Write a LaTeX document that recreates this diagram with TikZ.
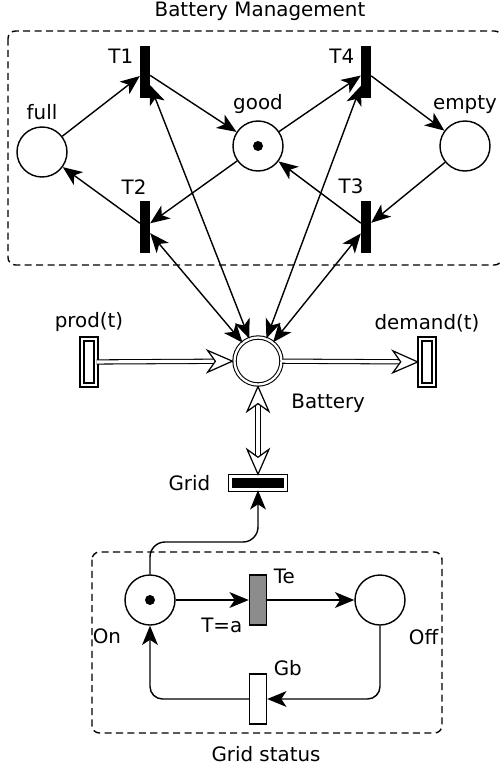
\documentclass[tikz,border=0pt]{standalone}
\usepackage{fontspec}
\setmainfont{DejaVu Sans}
\usetikzlibrary{arrows.meta, positioning, calc}

\begin{document}
\begin{tikzpicture}[
  font=\fontsize{11.3}{13.5}\selectfont,
  line width=0.8pt,
  place/.style={draw, circle, minimum size=1cm, inner sep=0pt},
  token/.style={fill=black, circle, minimum size=0.2cm, inner sep=0pt},
  bar/.style={draw, fill=black, minimum width=0.18cm, minimum height=1.02cm, inner sep=0pt},
  gate/.style={draw, minimum width=0.34cm, minimum height=1cm, inner sep=0pt},
  ext/.style={draw, double, double distance=1.5pt, inner sep=0pt},
  group/.style={draw, dash pattern=on 4pt off 2.5pt, rounded corners=0.15cm},
  arc/.style={-{Stealth[length=11pt, width=9pt, inset=3pt]}},
  biarc/.style={{Stealth[length=11pt, width=9pt, inset=3pt]}-{Stealth[length=11pt, width=9pt, inset=3pt]}},
  flow/.style={double, double distance=1.8pt, line width=0.6pt},
  fat/.tip={Stealth[length=16pt, width=14pt, inset=5pt, fill=white, line width=0.7pt]}
]
  \useasboundingbox (0,0) rectangle (10,-15.38);

  % Battery Management
  \draw[group] (0.16,-0.62) rectangle (10.04,-5.30);
  \node (bmtitle) at (5.2,-0.22) {Battery Management};
  \node[place, label=above:full] (full) at (0.84,-3.04) {};
  \node[place, label=above:good] (good) at (5.16,-2.92) {};
  \node[place, label=above:empty] (empty) at (9.30,-2.92) {};
  \node[token] (goodtok) at (good) {};
  \node[bar, label={[yshift=0.32cm]left:T1}] (t1) at (2.90,-1.44) {};
  \node[bar, label={[yshift=0.32cm]left:T4}] (t4) at (7.32,-1.44) {};
  \node[bar, label={[xshift=-0.22cm]above:T2}] (t2) at (2.90,-4.54) {};
  \node[bar, label={[xshift=-0.3cm]above:T3}] (t3) at (7.32,-4.54) {};

  \draw[arc] (full) -- (t1);
  \draw[arc] (t1) -- (good);
  \draw[arc] (good) -- (t4);
  \draw[arc] (t4) -- (empty);
  \draw[arc] (empty) -- (t3);
  \draw[arc] (t3) -- (good);
  \draw[arc] (good) -- (t2);
  \draw[arc] (t2) -- (full);

  % Battery
  \node[draw, circle, double, double distance=1.3pt, line width=0.6pt, minimum size=0.94cm, inner sep=0pt,
        label={[label distance=0.28cm]-45:Battery}] (bat) at (5.16,-7.22) {};
  \node[ext, minimum width=0.28cm, minimum height=0.92cm, label=above:prod(t)] (prod) at (1.78,-7.24) {};
  \node[ext, minimum width=0.28cm, minimum height=0.92cm, label=above:demand(t)] (dem) at (8.54,-7.24) {};
  \node[ext, fill=black, minimum width=1.1cm, minimum height=0.26cm,
        label={[label distance=0.26cm]left:Grid}] (grid) at (5.16,-9.66) {};

  \foreach \t in {t1, t2, t3, t4} {
    \draw[biarc] (\t) -- (bat);
  }
  \draw[flow, -fat] (prod) -- (bat);
  \draw[flow, -fat] (bat) -- (dem);
  \draw[flow, fat-fat] (bat) -- (grid);

  % Grid status
  \draw[group] (1.84,-11.04) rectangle (8.84,-14.66);
  \node (gstitle) at (5.32,-15.08) {Grid status};
  \node[place, label={[label distance=0.12cm]225:On}] (on) at (3.00,-12.00) {};
  \node[token] (ontok) at (on) {};
  \node[place, label={[label distance=0.12cm]-45:Off}] (off) at (7.60,-12.00) {};
  \node[gate, fill=black!45, label={[yshift=0.48cm]right:Te}, label={[yshift=-0.5cm]left:T=a}] (te) at (5.16,-12.00) {};
  \node[gate, fill=white, label={[yshift=0.14cm]above right:Gb}] (gb) at (5.16,-13.98) {};
  \coordinate (gridbend) at (5.16,-10.84);

  \draw[arc] (on) -- (te);
  \draw[arc] (te) -- (off);
  \draw[arc, rounded corners=0.25cm] (off.south) |- (gb.east);
  \draw[arc, rounded corners=0.25cm] (gb.west) -| (on.south);
  \draw[arc, rounded corners=0.3cm] (on.north) |- (gridbend) -- (grid.south);
\end{tikzpicture}
\end{document}
